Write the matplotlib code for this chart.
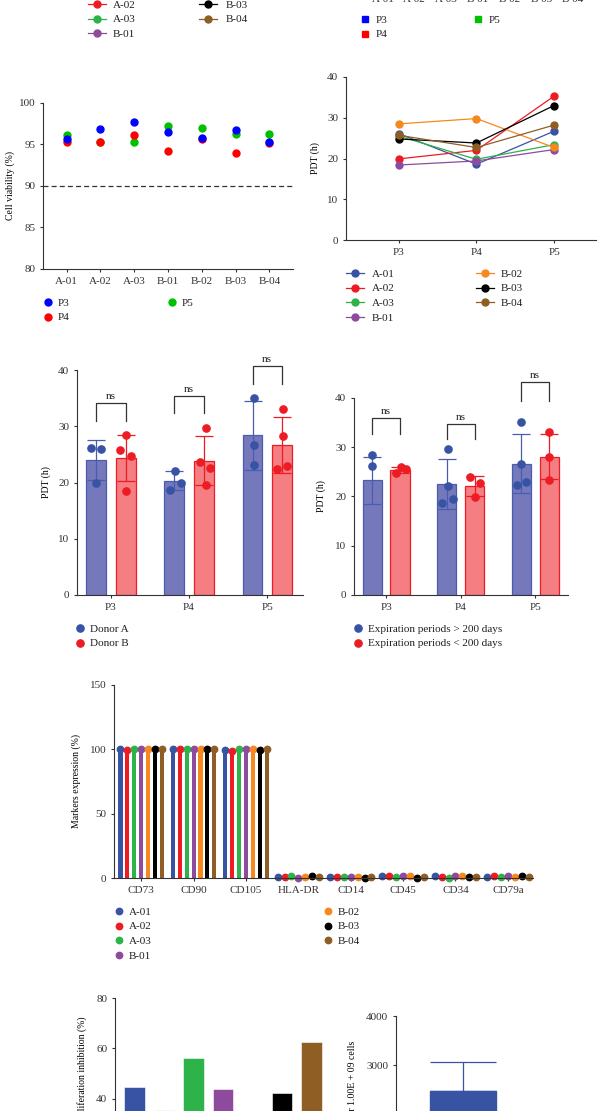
import numpy as np
import matplotlib
matplotlib.use('Agg')
import matplotlib.pyplot as plt
from matplotlib.lines import Line2D

plt.rcParams['font.family'] = ['Liberation Serif', 'DejaVu Serif']
plt.rcParams['font.size'] = 8
plt.rcParams['axes.linewidth'] = 0.8
plt.rcParams['axes.edgecolor'] = '#333333'
plt.rcParams['xtick.color'] = '#333333'
plt.rcParams['ytick.color'] = '#333333'
plt.rcParams['text.color'] = '#231F20'

# ---- data ----
samples = ['A-01', 'A-02', 'A-03', 'B-01', 'B-02', 'B-03', 'B-04']
sample_colors = ['#3853A4', '#ED1C24', '#2DB34A', '#8E4B9D', '#F7881F', '#000000', '#8F5E24']
passages = ['P3', 'P4', 'P5']

# cell viability (%) per sample
viab_p3 = [95.7, 96.9, 97.75, 96.55, 95.8, 96.8, 95.25]
viab_p4 = [95.25, 95.25, 96.2, 94.2, 95.65, 94.0, 95.15]
viab_p5 = [96.2, 95.25, 95.35, 97.2, 97.0, 96.3, 96.3]

# PDT (h) per sample at P3, P4, P5
pdt_a01 = [26.1, 18.6, 26.7]
pdt_a02 = [19.9, 22.0, 35.3]
pdt_a03 = [25.5, 19.8, 23.4]
pdt_b01 = [18.4, 19.4, 22.2]
pdt_b02 = [28.5, 29.8, 22.7]
pdt_b03 = [24.8, 23.8, 33.0]
pdt_b04 = [25.7, 22.7, 28.2]

# PDT by donor
donor_a_mean = [24.0, 20.3, 28.4]
donor_a_sd = [3.6, 1.7, 6.1]
donor_a_pts = [[26.2, 26.0, 20.0], [22.1, 19.9, 18.7], [35.1, 26.6, 23.2]]
donor_b_mean = [24.3, 23.9, 26.7]
donor_b_sd = [4.1, 4.3, 5.0]
donor_b_pts = [[28.5, 25.7, 24.8, 18.5], [29.7, 23.7, 22.6, 19.5], [33.0, 28.2, 22.4, 23.0]]

# PDT by expiration period
exp_long_mean = [23.3, 22.6, 26.7]
exp_long_sd = [4.8, 5.05, 5.9]
exp_long_pts = [[28.4, 26.1], [29.7, 22.1, 19.5, 18.7], [35.2, 26.7, 22.3, 23.0]]
exp_short_mean = [25.4, 22.1, 28.1]
exp_short_sd = [0.6, 2.1, 4.5]
exp_short_pts = [[24.8, 26.0, 25.6], [23.9, 22.7, 19.8], [33.0, 28.1, 23.3]]

# marker expression (%) per sample
markers = ['CD73', 'CD90', 'CD105', 'HLA-DR', 'CD14', 'CD45', 'CD34', 'CD79a']
expr_a01 = [100, 100, 99.4, 0.5, 0.9, 1.6, 1.5, 0.8]
expr_a02 = [99.4, 100, 98.6, 0.5, 0.9, 1.3, 1.0, 1.8]
expr_a03 = [100, 100, 100, 1.2, 1.0, 1.0, 0.1, 1.0]
expr_b01 = [100, 100, 99.9, 0.1, 0.8, 1.3, 1.5, 1.2]
expr_b02 = [100, 100, 99.9, 0.8, 0.6, 1.7, 1.4, 1.1]
expr_b03 = [100, 100, 99.8, 1.4, 0.2, 0.1, 0.8, 1.2]
expr_b04 = [100, 100, 100, 1.0, 0.6, 0.8, 1.0, 1.1]

# proliferation inhibition (%)
inhibition = [44.8, 35.6, 56.2, 43.9, 30.0, 42.4, 62.4]
inhibition_colors = ['#3853A4', '#F9C4CE', '#2DB34A', '#8E4B9D', '#F7881F', '#000000', '#8F5E24']

# cell yield
yield_mean = [2470]
yield_sd = [590]

# ---- layout helpers ----
W, H = 606, 1111
FS = 8
LFS = 7
FSPX = FS * 100 / 72

fig = plt.figure(figsize=(W / 100, H / 100), dpi=100)


def rect(l, t, r, b):
    return [l / W, 1 - b / H, (r - l) / W, (b - t) / H]


def style(ax, xpad=3.0, ypad=3.0):
    ax.spines['top'].set_visible(False)
    ax.spines['right'].set_visible(False)
    ax.tick_params(axis='x', length=2.5, width=0.8, pad=xpad, labelsize=FS)
    ax.tick_params(axis='y', length=2.5, width=0.8, pad=ypad, labelsize=FS)


def col_legend(handles, labels, xm, y0, tx, hl=0.8):
    # xm: handle centre px, y0: first row centre px, tx: text left px
    x0 = xm - hl * FSPX / 2
    pad = (tx - (x0 + hl * FSPX)) / FSPX
    fig.legend(handles, labels, loc='upper left',
               bbox_to_anchor=(x0 / W, 1 - (y0 - 0.44 * FSPX) / H),
               frameon=False, borderpad=0, borderaxespad=0,
               handlelength=hl, handletextpad=pad, labelspacing=0.43,
               fontsize=FS)


# ---- remnant of panel above (right) ----
ax0 = fig.add_axes(rect(355, -150, 600, -12))
ax0.set_xlim(-0.884, 6.85)
ax0.set_xticks(range(len(samples)))
ax0.set_xticklabels(samples)
ax0.set_yticks([])
for s in ax0.spines.values():
    s.set_visible(False)
ax0.tick_params(axis='x', length=0, pad=5, labelsize=FS)
sq = [Line2D([], [], ls='none', marker='s', ms=5, color=c) for c in ['#0000FF', '#FF0000', '#00C000']]
col_legend(sq[:2], ['P3', 'P4'], 365, 20, 376)
col_legend(sq[2:], ['P5'], 478, 20, 489)

# ---- cell viability ----
ax1 = fig.add_axes(rect(43, 103, 293, 269))
style(ax1)
x7 = np.arange(len(samples))
h5, = ax1.plot(x7, viab_p5, 'o', ms=5, color='#00C000', zorder=3)
h4, = ax1.plot(x7, viab_p4, 'o', ms=5, color='#FF0000', zorder=3)
h3, = ax1.plot(x7, viab_p3, 'o', ms=5, color='#0000FF', zorder=3)
ax1.axhline(90, ls=(0, (4, 2.5)), color='#333333', lw=0.9)
ax1.set_xlim(-0.7, 6.7)
ax1.set_ylim(80, 100)
ax1.set_yticks([80, 85, 90, 95, 100])
ax1.set_xticks(x7)
ax1.set_xticklabels(samples)
ax1.set_ylabel('Cell viability (%)', fontsize=LFS, labelpad=3)
col_legend([h3, h4], ['P3', 'P4'], 48, 303, 58)
col_legend([h5], ['P5'], 172, 303, 182)

# ---- PDT lines ----
ax2 = fig.add_axes(rect(346, 77, 596, 240))
style(ax2)
x3 = np.arange(3)
pdt_all = [pdt_a01, pdt_a02, pdt_a03, pdt_b01, pdt_b02, pdt_b03, pdt_b04]
line_handles = []
for vals, c in zip(pdt_all, sample_colors):
    h, = ax2.plot(x3, vals, '-o', color=c, lw=0.9, ms=5)
    line_handles.append(h)
ax2.set_xlim(-0.68, 2.54)
ax2.set_ylim(0, 40)
ax2.set_yticks([0, 10, 20, 30, 40])
ax2.set_xticks(x3)
ax2.set_xticklabels(passages)
ax2.set_ylabel('PDT (h)', fontsize=LFS, labelpad=5)
col_legend(line_handles[:4], samples[:4], 355, 274, 372, hl=1.6)
col_legend(line_handles[4:], samples[4:], 485, 274, 501, hl=1.6)

# remnant legend of panel above (left)
col_legend(line_handles[:4], samples[:4], 97, -9.5, 113, hl=1.6)
col_legend(line_handles[4:], samples[4:], 208, -9.5, 226, hl=1.6)


# ---- bar panels ----
def bar_panel(ax, mA, sA, pA, jA, mB, sB, pB, jB, btop, bleg, ppu):
    x = np.arange(3)
    off = 0.187
    groups = [(-off, mA, sA, pA, jA, '#7579BC', '#4A5CAE', '#3853A4'),
              (off, mB, sB, pB, jB, '#F47E82', '#ED1C24', '#ED1C24')]
    handles = []
    for o, m, s, pts, jit, fc, ec, pc in groups:
        ax.bar(x + o, m, width=0.256, color=fc, edgecolor=ec, lw=0.9, zorder=1)
        ax.errorbar(x + o, m, yerr=s, fmt='none', ecolor=ec, elinewidth=0.9,
                    capsize=6.5, capthick=0.9, zorder=2)
        for i in range(3):
            h, = ax.plot(x[i] + o + np.array(jit[i]) / ppu, pts[i], 'o', ms=5.2,
                         color=pc, zorder=3, clip_on=False)
        handles.append(h)
    for i in range(3):
        x1, x2 = x[i] - off, x[i] + off
        ax.plot([x1, x1, x2, x2], [bleg[i], btop[i], btop[i], bleg[i]],
                color='#333333', lw=0.9, clip_on=False)
        ax.text(x[i], btop[i] + 0.4, 'ns', ha='center', va='bottom', fontsize=FS)
    ax.set_ylim(0, 40)
    ax.set_yticks([0, 10, 20, 30, 40])
    ax.set_xticks(x)
    ax.set_xticklabels(passages)
    return handles


donor_a_jit = [[-5.7, 5.0, 0.0], [0.8, 6.5, -4.2], [1.0, 1.0, 1.0]]
donor_b_jit = [[0.0, -5.3, 5.7, 0.0], [2.5, -3.5, 6.8, 2.5], [1.0, 1.0, -4.3, 5.8]]
ax3 = fig.add_axes(rect(77, 370, 303, 595))
style(ax3)
hd = bar_panel(ax3, donor_a_mean, donor_a_sd, donor_a_pts, donor_a_jit,
               donor_b_mean, donor_b_sd, donor_b_pts, donor_b_jit,
               [34.1, 35.4, 40.7], [30.9, 32.3, 37.5], 78.0)
ax3.set_xlim(-0.436, 2.46)
ax3.set_ylabel('PDT (h)', fontsize=LFS, labelpad=5)
col_legend(hd, ['Donor A', 'Donor B'], 80, 629, 90)

exp_long_jit = [[0.0, 0.0], [1.0, 1.0, 6.3, -4.3], [0.0, 0.0, -4.2, 5.2]]
exp_short_jit = [[-3.7, 0.7, 5.7], [-4.3, 5.7, 0.7], [0.0, 0.0, 0.0]]
ax4 = fig.add_axes(rect(354, 398, 568, 595))
style(ax4)
he = bar_panel(ax4, exp_long_mean, exp_long_sd, exp_long_pts, exp_long_jit,
               exp_short_mean, exp_short_sd, exp_short_pts, exp_short_jit,
               [36.0, 34.8, 43.2], [32.7, 31.7, 39.4], 74.5)
ax4.set_xlim(-0.43, 2.44)
ax4.set_ylabel('PDT (h)', fontsize=LFS, labelpad=6.5)
col_legend(he, ['Expiration periods > 200 days', 'Expiration periods < 200 days'], 358, 629, 368)

# ---- marker expression ----
ax5 = fig.add_axes(rect(114, 685, 533, 878))
style(ax5)
x8 = np.arange(len(markers))
expr_all = [expr_a01, expr_a02, expr_a03, expr_b01, expr_b02, expr_b03, expr_b04]
mk_handles = []
for k, (vals, c) in enumerate(zip(expr_all, sample_colors)):
    xs = x8 + (k - 3) * 0.132
    ax5.bar(xs, vals, width=0.078, color=c, zorder=1)
    h, = ax5.plot(xs, vals, 'o', ms=4.6, color=c, zorder=2, clip_on=False)
    mk_handles.append(h)
ax5.set_xlim(-0.52, 7.48)
ax5.set_ylim(0, 150)
ax5.set_yticks([0, 50, 100, 150])
ax5.set_xticks(x8)
ax5.set_xticklabels(markers)
ax5.set_ylabel('Markers expression (%)', fontsize=LFS, labelpad=6.5)
col_legend(mk_handles[:4], samples[:4], 119, 912, 129)
col_legend(mk_handles[4:], samples[4:], 328, 912, 338)

# ---- proliferation inhibition ----
ax6 = fig.add_axes(rect(115, 998, 331, 1149))
style(ax6)
ax6.bar(x7, inhibition, width=0.68, color=inhibition_colors, edgecolor='white', lw=0.4)
ax6.set_xlim(-0.66, 6.66)
ax6.set_ylim(20, 80)
ax6.set_yticks([20, 40, 60, 80])
ax6.set_xticks(x7)
ax6.set_xticklabels(samples)
ax6.set_ylabel('Proliferation inhibition (%)', fontsize=LFS)
ax6.yaxis.set_label_coords(-0.13, 0.52)

# ---- cell yield ----
ax7 = fig.add_axes(rect(396, 1016, 530, 1213))
style(ax7)
ax7.bar([0], yield_mean, width=0.49, color='#3853A4', edgecolor='#3853A4', zorder=1)
ax7.errorbar([0], yield_mean, yerr=[[0], yield_sd], fmt='none', ecolor='#3853A4',
             elinewidth=0.9, capsize=24, capthick=0.9, zorder=2)
ax7.set_xlim(-0.5, 0.5)
ax7.set_ylim(0, 4000)
ax7.set_yticks([0, 1000, 2000, 3000, 4000])
ax7.set_xticks([0])
ax7.set_xticklabels(['P5'])
ax7.set_ylabel('Total MSC yield per 1.00E + 09 cells', fontsize=LFS, labelpad=6.5)

fig.savefig('out.png', dpi=100)
